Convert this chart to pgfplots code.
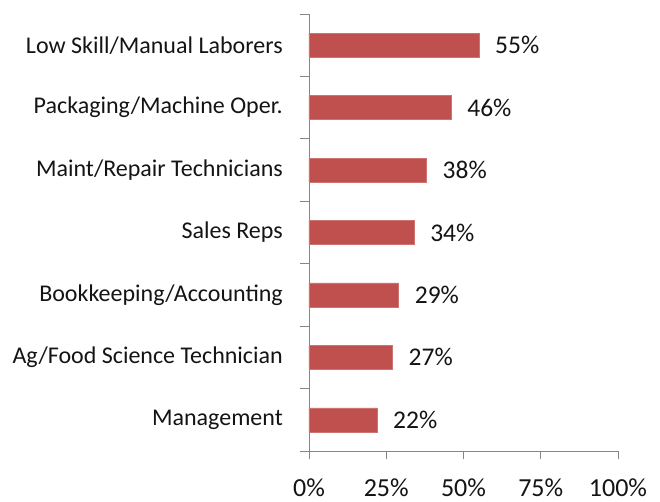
\documentclass[border=0pt]{standalone}
\usepackage{pgfplots}
\pgfplotsset{compat=1.18}
\usepackage{fontspec}
\setmainfont{Carlito}
\definecolor{barred}{RGB}{192,80,77}
\definecolor{axgray}{RGB}{134,134,134}
\definecolor{txt}{RGB}{20,20,20}
\begin{document}
\begin{tikzpicture}
\begin{axis}[
  name=ax,
  xbar,
  scale only axis,
  width=309bp, height=437bp,
  xmin=0, xmax=100,
  ymin=-0.5, ymax=6.5,
  axis x line*=bottom,
  axis y line*=left,
  axis line style={axgray, line width=0.9bp},
  xtick={0,25,50,75,100},
  xticklabels={0\%,25\%,50\%,75\%,100\%},
  ytick={-0.5,0.5,...,6.5},
  yticklabels={},
  extra y ticks={0,1,2,3,4,5,6},
  extra y tick labels={Management,Ag/Food Science Technician,Bookkeeping/Accounting,Sales Reps,Maint/Repair Technicians,Packaging/Machine Oper.,Low Skill/Manual Laborers},
  extra y tick style={major tick length=0pt, yticklabel style={font=\fontsize{24bp}{28bp}\selectfont, text=txt, inner sep=0pt, xshift=-26bp, anchor=east}},
  tick align=outside,
  major tick length=8.5bp,
  tick style={axgray, line width=0.9bp},
  x tick label style={font=\fontsize{26bp}{30bp}\selectfont, text=txt, inner sep=0pt, anchor=north, yshift=-19bp},
  /pgf/number format/assume math mode=true,
  bar width=0.385,
  clip=false,
  nodes near coords={\pgfmathprintnumber{\pgfplotspointmeta}\%},
  nodes near coords style={font=\fontsize{25.5bp}{30bp}\selectfont, text=txt, anchor=west, inner sep=0pt, xshift=16bp},
  point meta=x,
]
\addplot[fill=barred, draw=barred!80!white, line width=0.5bp] coordinates {
  (22,0) (27,1) (29,2) (34,3) (38,4) (46,5) (55,6)
};
\end{axis}
\pgfresetboundingbox
\path[use as bounding box] ([xshift=-309bp,yshift=-51bp]ax.south west) rectangle ([xshift=42bp,yshift=14bp]ax.north east);
\end{tikzpicture}
\end{document}
